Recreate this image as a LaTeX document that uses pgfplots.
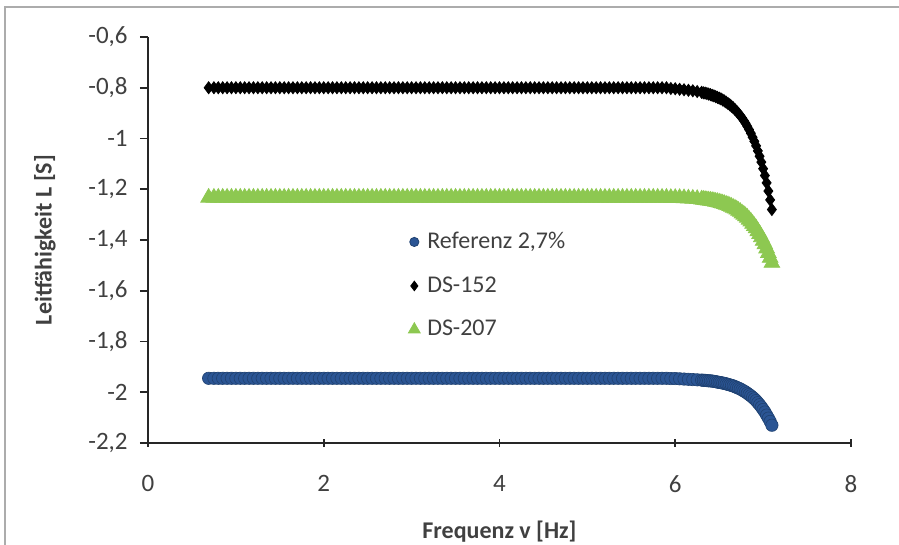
\documentclass[border=0pt]{standalone}
\usepackage{fontspec}
\setmainfont{Carlito}
\usepackage{pgfplots}
\pgfplotsset{compat=1.18}
\usepackage{pgfplotstable}
\definecolor{refblue}{HTML}{2B5594}
\definecolor{refedge}{HTML}{1F4170}
\definecolor{dsgreen}{HTML}{8DC851}
\definecolor{txt}{HTML}{404040}
\pgfplotstableread{
x ref ds152 ds207
0.69 -1.945 -0.800 -1.233
0.75 -1.945 -0.800 -1.233
0.80 -1.945 -0.800 -1.233
0.85 -1.945 -0.800 -1.233
0.90 -1.945 -0.800 -1.233
0.95 -1.945 -0.800 -1.233
1.00 -1.945 -0.800 -1.233
1.05 -1.945 -0.800 -1.233
1.10 -1.945 -0.800 -1.233
1.15 -1.945 -0.800 -1.233
1.20 -1.945 -0.800 -1.233
1.25 -1.945 -0.800 -1.233
1.30 -1.945 -0.800 -1.233
1.35 -1.945 -0.800 -1.233
1.40 -1.945 -0.800 -1.233
1.45 -1.945 -0.800 -1.233
1.50 -1.945 -0.800 -1.233
1.55 -1.945 -0.800 -1.233
1.60 -1.945 -0.800 -1.233
1.65 -1.945 -0.800 -1.233
1.70 -1.945 -0.800 -1.233
1.75 -1.945 -0.800 -1.233
1.80 -1.945 -0.800 -1.233
1.85 -1.945 -0.800 -1.233
1.90 -1.945 -0.800 -1.233
1.95 -1.945 -0.800 -1.233
2.00 -1.945 -0.800 -1.233
2.05 -1.945 -0.800 -1.233
2.10 -1.945 -0.800 -1.233
2.15 -1.945 -0.800 -1.233
2.20 -1.945 -0.800 -1.233
2.25 -1.945 -0.800 -1.233
2.30 -1.945 -0.800 -1.233
2.35 -1.945 -0.800 -1.233
2.40 -1.945 -0.800 -1.233
2.45 -1.945 -0.800 -1.233
2.50 -1.945 -0.800 -1.233
2.55 -1.945 -0.800 -1.233
2.60 -1.945 -0.800 -1.233
2.65 -1.945 -0.800 -1.233
2.70 -1.945 -0.800 -1.233
2.75 -1.945 -0.800 -1.233
2.80 -1.945 -0.800 -1.233
2.85 -1.945 -0.800 -1.233
2.90 -1.945 -0.800 -1.233
2.95 -1.945 -0.800 -1.233
3.00 -1.945 -0.800 -1.233
3.05 -1.945 -0.800 -1.233
3.10 -1.945 -0.800 -1.233
3.15 -1.945 -0.800 -1.233
3.20 -1.945 -0.800 -1.233
3.25 -1.945 -0.800 -1.233
3.30 -1.945 -0.800 -1.233
3.35 -1.945 -0.800 -1.233
3.40 -1.945 -0.800 -1.233
3.45 -1.945 -0.800 -1.233
3.50 -1.945 -0.800 -1.233
3.55 -1.945 -0.800 -1.233
3.60 -1.945 -0.800 -1.233
3.65 -1.945 -0.800 -1.233
3.70 -1.945 -0.800 -1.233
3.75 -1.945 -0.800 -1.233
3.80 -1.945 -0.800 -1.233
3.85 -1.945 -0.800 -1.233
3.90 -1.945 -0.800 -1.233
3.95 -1.945 -0.800 -1.233
4.00 -1.945 -0.800 -1.233
4.05 -1.945 -0.800 -1.233
4.10 -1.945 -0.800 -1.233
4.15 -1.945 -0.800 -1.233
4.20 -1.945 -0.800 -1.233
4.25 -1.945 -0.800 -1.233
4.30 -1.945 -0.800 -1.233
4.35 -1.945 -0.800 -1.233
4.40 -1.945 -0.800 -1.233
4.45 -1.945 -0.800 -1.233
4.50 -1.945 -0.800 -1.233
4.55 -1.945 -0.800 -1.233
4.60 -1.945 -0.800 -1.233
4.65 -1.945 -0.800 -1.233
4.70 -1.945 -0.800 -1.233
4.75 -1.945 -0.800 -1.233
4.80 -1.945 -0.800 -1.233
4.85 -1.945 -0.800 -1.233
4.90 -1.945 -0.800 -1.233
4.95 -1.945 -0.800 -1.233
5.00 -1.945 -0.800 -1.233
5.05 -1.945 -0.800 -1.233
5.10 -1.945 -0.800 -1.233
5.15 -1.945 -0.800 -1.233
5.20 -1.945 -0.800 -1.233
5.25 -1.945 -0.800 -1.233
5.30 -1.945 -0.800 -1.233
5.35 -1.945 -0.800 -1.233
5.40 -1.945 -0.800 -1.233
5.45 -1.945 -0.800 -1.233
5.50 -1.945 -0.800 -1.233
5.55 -1.945 -0.800 -1.233
5.60 -1.945 -0.800 -1.233
5.65 -1.945 -0.800 -1.233
5.70 -1.945 -0.800 -1.233
5.75 -1.945 -0.800 -1.233
5.80 -1.945 -0.800 -1.233
5.85 -1.945 -0.800 -1.233
5.90 -1.945 -0.800 -1.233
5.95 -1.946 -0.803 -1.234
6.00 -1.946 -0.804 -1.234
6.05 -1.947 -0.806 -1.234
6.10 -1.948 -0.808 -1.235
6.15 -1.949 -0.810 -1.236
6.20 -1.950 -0.812 -1.237
6.25 -1.951 -0.815 -1.238
6.30 -1.952 -0.818 -1.240
6.32 -1.953 -0.820 -1.241
6.34 -1.953 -0.821 -1.242
6.36 -1.954 -0.823 -1.243
6.38 -1.955 -0.825 -1.244
6.40 -1.955 -0.827 -1.245
6.42 -1.956 -0.830 -1.246
6.44 -1.957 -0.832 -1.247
6.46 -1.958 -0.835 -1.249
6.48 -1.960 -0.838 -1.250
6.50 -1.961 -0.841 -1.252
6.52 -1.962 -0.844 -1.254
6.54 -1.964 -0.848 -1.256
6.56 -1.965 -0.852 -1.258
6.58 -1.967 -0.857 -1.261
6.60 -1.969 -0.862 -1.263
6.62 -1.971 -0.867 -1.266
6.64 -1.973 -0.873 -1.269
6.66 -1.975 -0.879 -1.273
6.68 -1.978 -0.886 -1.276
6.70 -1.981 -0.893 -1.280
6.72 -1.984 -0.901 -1.285
6.74 -1.987 -0.910 -1.289
6.76 -1.991 -0.919 -1.295
6.78 -1.995 -0.929 -1.300
6.80 -1.999 -0.940 -1.306
6.82 -2.004 -0.952 -1.312
6.84 -2.009 -0.965 -1.320
6.86 -2.014 -0.979 -1.327
6.88 -2.020 -0.995 -1.336
6.90 -2.026 -1.011 -1.345
6.92 -2.033 -1.029 -1.354
6.94 -2.041 -1.049 -1.365
6.96 -2.049 -1.070 -1.376
6.98 -2.058 -1.093 -1.389
7.00 -2.068 -1.119 -1.403
7.02 -2.078 -1.146 -1.417
7.04 -2.090 -1.175 -1.433
7.06 -2.102 -1.207 -1.451
7.08 -2.115 -1.242 -1.470
7.10 -2.130 -1.280 -1.490
}\datatable

\begin{document}
\begin{tikzpicture}
\begin{axis}[
  scale only axis,
  width=351.5pt, height=203pt,
  xmin=0, xmax=8, ymin=-2.2, ymax=-0.6,
  axis x line=bottom, axis y line=left,
  axis line style={-, line width=0.8pt, color=black!85},
  xtick={0,2,4,6,8},
  xticklabels={0,2,4,6,8},
  ytick={-2.2,-2,-1.8,-1.6,-1.4,-1.2,-1,-0.8,-0.6},
  yticklabels={{-2,2},{-2},{-1,8},{-1,6},{-1,4},{-1,2},{-1},{-0,8},{-0,6}},
  xtick align=center, ytick align=outside,
  major tick length=4pt,
  tick style={line width=0.8pt, color=black!85},
  tick label style={font=\fontsize{12.5}{14}\selectfont, text=txt},
  yticklabel style={inner sep=0pt, xshift=-6pt},
  xticklabel style={inner sep=0pt, yshift=-14pt},
  xlabel={Frequenz v [Hz]},
  ylabel={Leitfähigkeit L [S]},
  label style={font=\bfseries\fontsize{12}{14}\selectfont, text=txt},
  xlabel style={at={(axis description cs:0.5,-0.2190)}, anchor=center},
  ylabel style={at={(axis description cs:-0.1465,0.5)}, anchor=center},
  legend style={at={(axis description cs:0.368,0.53)}, anchor=north west,
    draw=none, fill=none, inner sep=0pt, row sep=8.5pt,
    font=\fontsize{12}{14}\selectfont, text=txt, cells={anchor=west}},
  legend image code/.code={\draw[#1] plot coordinates {(0.12cm,0cm)};\path (0cm,0cm) (0.27cm,0cm);},
  clip=false,
]
\addlegendimage{only marks, mark=*, mark size=2.3pt, mark options={fill=refblue, draw=refedge}}
\addlegendentry{Referenz 2,7\%}
\addlegendimage{only marks, mark=diamond*, mark size=2.4pt, mark options={fill=black, draw=black}}
\addlegendentry{DS-152}
\addlegendimage{only marks, mark=triangle*, mark size=3.4pt, mark options={fill=dsgreen, draw=dsgreen}}
\addlegendentry{DS-207}

\addplot[forget plot, only marks, mark=*, mark size=3.1pt, mark options={fill=refblue, draw=refedge, line width=0.3pt}] table[x=x, y=ref] {\datatable};
\addplot[forget plot, only marks, mark=diamond*, mark size=3pt, mark options={fill=black, draw=black}] table[x=x, y=ds152] {\datatable};
\addplot[forget plot, only marks, mark=triangle*, mark size=4.5pt, mark options={fill=dsgreen, draw=dsgreen}] table[x=x, y=ds207] {\datatable};
\end{axis}
\draw[line width=1pt, gray!65] (-71.5pt,-51pt) -- (-71.5pt,217.75pt) -- (375.5pt,217.75pt);
\pgfresetboundingbox
\path[use as bounding box] (-74pt,-51pt) rectangle (375.5pt,221.5pt);
\end{tikzpicture}
\end{document}
